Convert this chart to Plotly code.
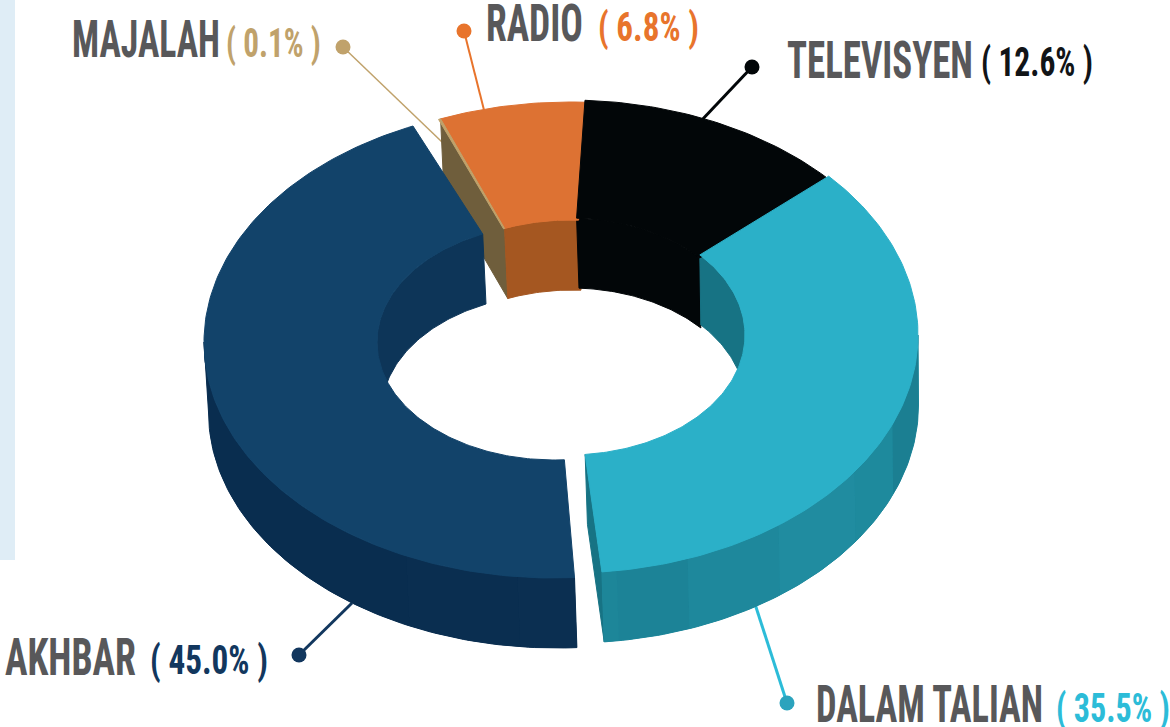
import json
import math
import plotly.graph_objects as go

# ---- data ----
names = ["RADIO", "TELEVISYEN", "DALAM TALIAN", "AKHBAR", "MAJALAH"]
shares = [6.8, 12.6, 35.5, 45.0, 0.1]

# ---- styling / geometry ----
START = -21.7
RX, RY, IRX, IRY = 350, 238, 177, 120
DEPTH_Y = 70
CENTER = {"RADIO": (570, 340), "TELEVISYEN": (568, 338), "DALAM TALIAN": (568, 335),
          "AKHBAR": (554, 342), "MAJALAH": (570, 340)}
FLATTEN = {"AKHBAR": 2}
TRIM = {"AKHBAR": (0.7, 1.7), "DALAM TALIAN": (0, 1.5)}
TOP = {"RADIO": "#dd7233", "TELEVISYEN": "#020608", "DALAM TALIAN": "#2bb0c8",
       "AKHBAR": "#12436a", "MAJALAH": "#c0a26b"}
INNER = {"RADIO": "#a55721", "TELEVISYEN": "#020608", "DALAM TALIAN": "#177384",
         "AKHBAR": "#0d3558", "MAJALAH": "#6f5e3c"}
TEAL_BANDS = [(172, "#1d8699"), (160, "#1c8397"), (143, "#1e889c"), (125, "#208ca0"),
              (112, "#1e8a9d"), (90, "#1b7f92")]
BLUE_BANDS = [(186, "#0b2f51"), (205, "#0a2e50"), (270, "#092d4f")]
CUT_TEAL = "#177384"
VALUE_COLOR = {"RADIO": "#e8742c", "TELEVISYEN": "#111417", "DALAM TALIAN": "#2cbcd8",
               "AKHBAR": "#12375e", "MAJALAH": "#c0a26b"}
DOT_COLOR = {"RADIO": "#e8742c", "TELEVISYEN": "#020608", "DALAM TALIAN": "#2ba3bd",
             "AKHBAR": "#12375e", "MAJALAH": "#c0a26b"}
LEADER = {"RADIO": ((464, 31), (485, 114), 2), "TELEVISYEN": ((752, 67), (700, 122), 3),
          "DALAM TALIAN": ((787, 703), (755, 604), 3), "AKHBAR": ((299, 655), (352, 603), 3),
          "MAJALAH": ((343, 47), (442, 142), 1.5)}
NAME_POS = {"RADIO": (485, 23), "TELEVISYEN": (786, 60), "DALAM TALIAN": (815, 704),
            "AKHBAR": (4, 657), "MAJALAH": (71, 39)}
VALUE_POS = {"RADIO": (597, 27), "TELEVISYEN": (980, 62), "DALAM TALIAN": (1055, 708),
             "AKHBAR": (149, 660), "MAJALAH": (225, 43)}
NAME_WIDTH = {"RADIO": 97, "TELEVISYEN": 186, "DALAM TALIAN": 227, "AKHBAR": 131, "MAJALAH": 148}
VALUE_WIDTH = {"RADIO": 101, "TELEVISYEN": 112, "DALAM TALIAN": 114, "AKHBAR": 118, "MAJALAH": 95}
NAME_GREY = "#58585a"
FONT = "Liberation Sans Narrow, Roboto Condensed, Liberation Sans, sans-serif"


def pt(n, outer, a, shift=False):
    c = CENTER[n]
    rx = RX if outer else IRX
    ry = (RY if outer else IRY) - FLATTEN.get(n, 0)
    t = math.radians(a)
    x = c[0] + rx * math.sin(t)
    y = c[1] - ry * math.cos(t)
    if shift:
        x += 2.5 - 2 * math.sin(t)
        y += DEPTH_Y
    return x, y


def arc(n, outer, a0, a1, shift=False):
    k = max(2, int(abs(a1 - a0)) + 2)
    return [pt(n, outer, a0 + (a1 - a0) * i / (k - 1), shift) for i in range(k)]


fig = go.Figure()


def poly(points, color, lw=1.0):
    fig.add_trace(go.Scatter(x=[p[0] for p in points] + [points[0][0]],
                             y=[p[1] for p in points] + [points[0][1]],
                             mode="lines", fill="toself", fillcolor=color,
                             line=dict(color=color, width=lw), hoverinfo="skip",
                             showlegend=False))


# angular spans from the shares
spans = {}
a = START
for n, s in zip(names, shares):
    spans[n] = (a, a + s * 3.6)
    a += s * 3.6
for n, (t0, t1) in TRIM.items():
    spans[n] = (spans[n][0] + t0, spans[n][1] - t1)

# leaders behind everything
for n in names:
    (d, e, w) = LEADER[n]
    fig.add_trace(go.Scatter(x=[d[0], e[0]], y=[d[1], e[1]], mode="lines",
                             line=dict(color=DOT_COLOR[n] if n != "DALAM TALIAN" else VALUE_COLOR[n], width=w),
                             hoverinfo="skip", showlegend=False))
    fig.add_trace(go.Scatter(x=[d[0]], y=[d[1]], mode="markers",
                             marker=dict(color=DOT_COLOR[n], size=15, line=dict(width=0)),
                             hoverinfo="skip", showlegend=False))

# cut face of the small slice (seen between orange and blue)
m0, m1 = spans["MAJALAH"]
poly([pt("MAJALAH", True, m1), pt("MAJALAH", False, m1), pt("MAJALAH", False, m1, True),
      pt("MAJALAH", True, m1, True)], INNER["MAJALAH"])

# inner walls: back half of the hole
for n in ["RADIO", "TELEVISYEN", "DALAM TALIAN", "AKHBAR"]:
    a0, a1 = spans[n]
    lo, hi = a0, a1
    if hi > 180 and lo < 180:  # the big slice: only its back part shows
        lo, hi = 270 - 360, hi - 360
    lo, hi = max(lo, -90), min(hi, 90)
    if hi > lo:
        poly(arc(n, False, lo, hi) + arc(n, False, hi, lo, True), INNER[n])

# outer walls: a base, then faint shading bands, then the teal cut face
n = "DALAM TALIAN"
a0, a1 = spans[n]
poly([pt(n, False, a1), pt(n, True, a1), pt(n, True, a1, True), pt(n, False, a1, True)], CUT_TEAL)
poly(arc(n, True, a1, 90) + arc(n, True, 90, a1, True), TEAL_BANDS[2][1])
prev = a1
for stop, col in TEAL_BANDS:
    poly(arc(n, True, prev, stop) + arc(n, True, stop, prev, True), col, 0)
    prev = stop
n = "AKHBAR"
a0, a1 = spans[n]
poly(arc(n, True, a0, 270) + arc(n, True, 270, a0, True), BLUE_BANDS[1][1])
prev = a0
for stop, col in BLUE_BANDS:
    poly(arc(n, True, prev, stop) + arc(n, True, stop, prev, True), col, 0)
    prev = stop

# top faces
for n in names:
    a0, a1 = spans[n]
    poly(arc(n, True, a0, a1) + arc(n, False, a1, a0), TOP[n])

# text
ann = []
squeeze = {}
for n, s in zip(names, shares):
    value_text = f"( {s:.1f}% )"
    squeeze[n] = NAME_WIDTH[n]
    squeeze[value_text] = VALUE_WIDTH[n]
    ann.append(dict(x=NAME_POS[n][0], y=NAME_POS[n][1], text=n, showarrow=False, xanchor="left",
                    yanchor="middle", align="left", borderpad=0,
                    font=dict(family=FONT, size=52, color=NAME_GREY, weight="bold")))
    ann.append(dict(x=VALUE_POS[n][0], y=VALUE_POS[n][1], text=value_text, showarrow=False,
                    xanchor="left", yanchor="middle", align="left", borderpad=0,
                    font=dict(family=FONT, size=41, color=VALUE_COLOR[n], weight="bold")))

fig.update_layout(
    width=1170, height=727, margin=dict(l=0, r=0, t=0, b=0), paper_bgcolor="white",
    plot_bgcolor="white", showlegend=False,
    xaxis=dict(range=[0, 1170], visible=False, fixedrange=True),
    yaxis=dict(range=[727, 0], visible=False, fixedrange=True),
    shapes=[dict(type="rect", x0=0, x1=15, y0=0, y1=560, xref="x", yref="y",
                 fillcolor="#dfedf6", line=dict(width=0), layer="below")],
    annotations=ann,
)

post = """
document.body.style.margin='0';document.body.style.overflow='hidden';
var W=%s;
document.querySelectorAll('.annotation-text').forEach(function(t){
  var b=t.getBBox();
  var sx=W[t.textContent]/b.width;
  t.setAttribute('transform','translate('+b.x+',0) scale('+sx+',1) translate('+(-b.x)+',0)');
});
""" % json.dumps(squeeze)
fig.write_html("out.html", post_script=post, config={"displayModeBar": False, "staticPlot": True})
